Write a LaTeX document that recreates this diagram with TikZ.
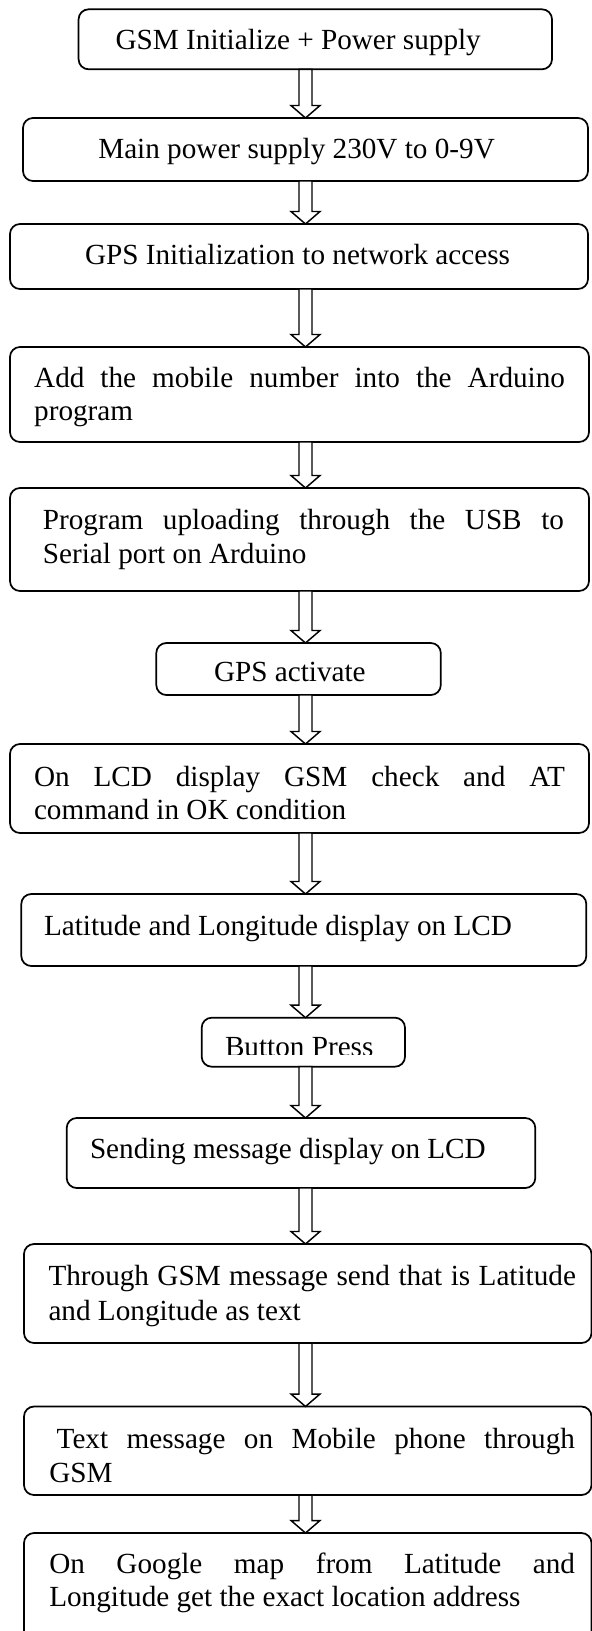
\documentclass[tikz,border=0pt]{standalone}
\usepackage{fontspec}
\setmainfont{Liberation Serif}
\usetikzlibrary{calc}
\newcommand{\blockarrow}[2]{%
  \draw[barrow] ($(ax |- #1.south)+(-6.5,0)$) -- ($(ax |- #2.north)+(-6.5,-12.5)$)
    -- ($(ax |- #2.north)+(-14.5,-12.5)$) -- (ax |- #2.north)
    -- ($(ax |- #2.north)+(14.5,-12.5)$) -- ($(ax |- #2.north)+(6.5,-12.5)$)
    -- ($(ax |- #1.south)+(6.5,0)$) -- cycle;}
\begin{document}
\begin{tikzpicture}[x=0.75pt,y=-0.75pt,
  box/.style={draw, line width=1.3pt, rounded corners=7.5pt, inner sep=0pt, outer sep=0pt},
  txt/.style={inner sep=0pt, outer sep=0pt, anchor=base west, font=\fontsize{21.9pt}{25.5pt}\selectfont},
  barrow/.style={draw, fill=white, line width=1.1pt, line join=miter}]
\useasboundingbox (0,0) rectangle (592,1631);
\fill[white] (0,0) rectangle (592,1631);
\coordinate (ax) at (305.5,0);
% boxes
\node[box, minimum width=355.05pt, minimum height=45pt]    (b1)  at (315.3,39.3) {};
\node[box, minimum width=423.75pt, minimum height=47.25pt] (b2)  at (305.5,149.5) {};
\node[box, minimum width=433.5pt,  minimum height=48.75pt] (b3)  at (299,256.5) {};
\node[box, minimum width=434.25pt, minimum height=71.25pt] (b4)  at (299.5,394.5) {};
\node[box, minimum width=434.25pt, minimum height=77.25pt] (b5)  at (299.5,539.5) {};
\node[box, minimum width=213.375pt,minimum height=39pt]    (b6)  at (298.55,669) {};
\node[box, minimum width=434.25pt, minimum height=66.75pt] (b7)  at (299.5,788.5) {};
\node[box, minimum width=423.75pt, minimum height=54pt]    (b8)  at (303.8,930) {};
\node[box, minimum width=152.475pt,minimum height=36.75pt] (b9)  at (303.35,1042.2) {};
\node[box, minimum width=351.45pt, minimum height=52.5pt]  (b10) at (301,1153) {};
\node[box, minimum width=425.625pt,minimum height=74.25pt] (b11) at (307.75,1293.5) {};
\node[box, minimum width=425.625pt,minimum height=66.375pt](b12) at (307.75,1450.75) {};
\node[box, minimum width=425.625pt,minimum height=84pt]    (b13) at (307.75,1589) {};
% texts
\node[txt] (t1) at (115.6,49.5) {GSM Initialize + Power supply};
\node[txt] (t2) at (98.3,158.5) {Main power supply 230V to 0-9V};
\node[txt] (t3) at (85,264.5) {GPS Initialization to network access};
\node[txt] (t4a) at (34.2,387) {\makebox[398.1pt][s]{Add the mobile number into the Arduino}};
\node[txt] (t4b) at (34.2,420.5) {program};
\node[txt] (t5a) at (42.9,529.3) {\makebox[390.8pt][s]{Program uploading through the USB to}};
\node[txt] (t5b) at (42.9,563.3) {Serial port on Arduino};
\node[txt] (t6) at (214,681) {GPS activate};
\node[txt] (t7a) at (34,786) {\makebox[398.25pt][s]{On LCD display GSM check and AT}};
\node[txt] (t7b) at (34,819.5) {command in OK condition};
\node[txt] (t8) at (44,935) {Latitude and Longitude display on LCD};
\begin{scope}
\clip (190,1020) rectangle (410,1054.3);
\node[txt] (t9) at (225,1056) {Button Press};
\end{scope}
\node[txt] (t10) at (90,1158.5) {Sending message display on LCD};
\node[txt] (t11a) at (48.5,1285.7) {\makebox[395.6pt][s]{Through GSM message send that is Latitude}};
\node[txt] (t11b) at (48.5,1320) {and Longitude as text};
\node[txt] (t12a) at (56.7,1448) {\makebox[388.7pt][s]{Text message on Mobile phone through}};
\node[txt] (t12b) at (49.3,1482) {GSM};
\node[txt] (t13a) at (49.3,1573.5) {\makebox[394.3pt][s]{On Google map from Latitude and}};
\node[txt] (t13b) at (49.3,1606.5) {Longitude get the exact location address};
% arrows
\blockarrow{b1}{b2}
\blockarrow{b2}{b3}
\blockarrow{b3}{b4}
\blockarrow{b4}{b5}
\blockarrow{b5}{b6}
\blockarrow{b6}{b7}
\blockarrow{b7}{b8}
\blockarrow{b8}{b9}
\blockarrow{b9}{b10}
\blockarrow{b10}{b11}
\blockarrow{b11}{b12}
\blockarrow{b12}{b13}
\end{tikzpicture}
\end{document}
